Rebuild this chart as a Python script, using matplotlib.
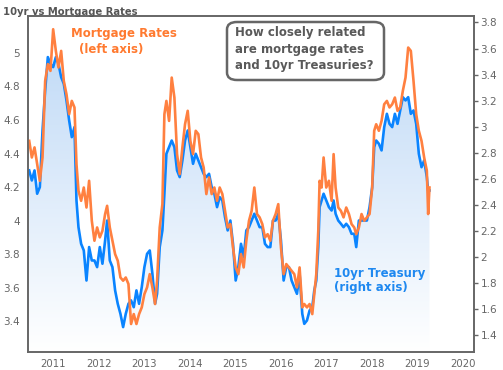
"""
10yr Treasury yields vs mortgage rates, 2010-2019, on twin y axes.
"""

import matplotlib.pyplot as plt
import numpy as np
from matplotlib.colors import LinearSegmentedColormap
from matplotlib.patches import FancyBboxPatch, Polygon

##############################################################################
# Values (decimal year, left axis %, right axis %).

year = [
    2010.466, 2010.524, 2010.583, 2010.641, 2010.700, 2010.759, 2010.817, 2010.876,
    2010.934, 2010.993, 2011.052, 2011.110, 2011.169, 2011.227, 2011.286, 2011.345,
    2011.403, 2011.462, 2011.506, 2011.550, 2011.608, 2011.667, 2011.726, 2011.784,
    2011.843, 2011.901, 2011.960, 2012.019, 2012.077, 2012.136, 2012.180, 2012.239,
    2012.297, 2012.356, 2012.414, 2012.473, 2012.532, 2012.590, 2012.649, 2012.707,
    2012.766, 2012.825, 2012.883, 2012.942, 2013.000, 2013.059, 2013.118, 2013.176,
    2013.235, 2013.279, 2013.337, 2013.396, 2013.440,
    2013.484, 2013.543, 2013.601, 2013.660, 2013.718, 2013.777, 2013.836, 2013.894,
    2013.953, 2014.011, 2014.070, 2014.129, 2014.187, 2014.246, 2014.304, 2014.363,
    2014.422, 2014.480, 2014.539, 2014.598, 2014.656, 2014.715, 2014.773, 2014.832,
    2014.891, 2014.949, 2015.008, 2015.066, 2015.125, 2015.184, 2015.242, 2015.301,
    2015.359, 2015.418, 2015.477, 2015.535, 2015.594, 2015.652, 2015.711, 2015.770,
    2015.828, 2015.887, 2015.945, 2016.004, 2016.063, 2016.121, 2016.180, 2016.238,
    2016.297, 2016.356, 2016.414, 2016.473,
    2016.517, 2016.576, 2016.634, 2016.693, 2016.737, 2016.781, 2016.825, 2016.854,
    2016.898, 2016.942, 2017.000, 2017.059, 2017.118, 2017.162, 2017.206, 2017.264,
    2017.323, 2017.381, 2017.440, 2017.499, 2017.557, 2017.616, 2017.660, 2017.718,
    2017.777, 2017.836, 2017.894, 2017.953, 2018.011, 2018.055, 2018.099, 2018.158,
    2018.217, 2018.275, 2018.334, 2018.392, 2018.451, 2018.510, 2018.568, 2018.627,
    2018.685, 2018.744, 2018.803, 2018.861, 2018.920, 2018.979, 2019.037, 2019.096,
    2019.154, 2019.213, 2019.242, 2019.271,
]

mortgage = [
    4.476, 4.377, 4.437, 4.337, 4.238, 4.377, 4.833, 4.933,
    4.893, 5.141, 5.012, 4.913, 5.012, 4.833, 4.754, 4.635,
    4.714, 4.675, 4.337, 4.179, 4.119, 4.198, 4.079, 4.238,
    4.000, 3.881, 3.960, 3.901, 3.940, 4.040, 4.089, 3.960,
    3.881, 3.801, 3.762, 3.662, 3.643, 3.662, 3.623, 3.385,
    3.444, 3.385, 3.444, 3.484, 3.563, 3.603, 3.682, 3.603,
    3.504, 3.643, 3.960, 4.099, 4.635,
    4.714, 4.595, 4.853, 4.734, 4.397, 4.278, 4.437, 4.575,
    4.655, 4.476, 4.397, 4.536, 4.516, 4.377, 4.317, 4.159,
    4.258, 4.159, 4.198, 4.119, 4.198, 4.159, 4.059, 3.960,
    3.980, 3.841, 3.722, 3.682, 3.801, 3.722, 3.881, 4.000,
    4.059, 4.198, 4.040, 4.020, 3.980, 3.901, 3.920, 3.881,
    4.000, 4.040, 4.099, 3.841, 3.682, 3.742, 3.722, 3.702,
    3.682, 3.603, 3.722, 3.484,
    3.504, 3.484, 3.504, 3.444, 3.563, 3.682, 3.940, 4.238,
    4.198, 4.377, 4.198, 4.238, 4.119, 4.397, 4.198, 4.079,
    4.059, 4.020, 4.079, 4.040, 3.980, 3.960, 3.920, 3.960,
    4.040, 4.000, 4.020, 4.040, 4.198, 4.536, 4.575, 4.536,
    4.595, 4.694, 4.714, 4.675, 4.694, 4.734, 4.655, 4.675,
    4.774, 4.853, 5.032, 5.012, 4.833, 4.635, 4.536, 4.476,
    4.377, 4.298, 4.040, 4.198,
]

treasury = [
    2.663, 2.586, 2.663, 2.484, 2.535, 2.970, 3.278, 3.534,
    3.483, 3.457, 3.534, 3.483, 3.380, 3.329, 3.201, 3.047,
    2.919, 2.996, 2.432, 2.227, 2.099, 2.048, 1.817, 2.074,
    1.971, 1.971, 1.920, 2.074, 1.946, 2.125, 2.278, 1.971,
    1.920, 1.741, 1.638, 1.561, 1.459, 1.561, 1.638, 1.664,
    1.612, 1.741, 1.638, 1.766, 1.920, 2.022, 2.048, 1.869,
    1.638, 1.715, 2.074, 2.202, 2.484,
    2.791, 2.842, 2.893, 2.842, 2.663, 2.612, 2.740, 2.893,
    2.970, 2.842, 2.714, 2.791, 2.740, 2.688, 2.637, 2.612,
    2.637, 2.535, 2.484, 2.381, 2.458, 2.432, 2.304, 2.202,
    2.278, 2.099, 1.817, 1.920, 2.099, 1.997, 2.202, 2.227,
    2.278, 2.330, 2.278, 2.227, 2.227, 2.099, 2.074, 2.074,
    2.278, 2.278, 2.330, 2.125, 1.817, 1.920, 1.920, 1.817,
    1.766, 1.715, 1.869, 1.561,
    1.484, 1.510, 1.587, 1.612, 1.741, 1.817, 2.074, 2.381,
    2.432, 2.484, 2.432, 2.381, 2.355, 2.432, 2.330, 2.278,
    2.253, 2.227, 2.253, 2.227, 2.176, 2.176, 2.074, 2.278,
    2.278, 2.278, 2.278, 2.381, 2.535, 2.842, 2.893, 2.868,
    2.817, 2.996, 3.098, 3.021, 2.996, 3.098, 3.021, 3.124,
    3.226, 3.201, 3.226, 3.098, 3.124, 3.021, 2.791, 2.688,
    2.740, 2.612, 2.509, 2.509,
]

year_ticks = [2011, 2012, 2013, 2014, 2015, 2016, 2017, 2018, 2019, 2020]
mortgage_ticks = [3.4, 3.6, 3.8, 4, 4.2, 4.4, 4.6, 4.8, 5]
treasury_ticks = [1.4, 1.6, 1.8, 2, 2.2, 2.4, 2.6, 2.8, 3, 3.2, 3.4, 3.6, 3.8]

ORANGE = "#FF8040"
BLUE = "#0A84FF"
GREY = "#666666"

xlim = (2010.44, 2020.24)
mortgage_lim = (3.22, 5.22)
treasury_lim = (1.27, 3.85)

##############################################################################
# The treasury axis is the base axes (so the orange line sits on top),
# with its ticks moved to the right.

fig = plt.figure(figsize=(5.03, 3.70), dpi=100)
ax = fig.add_axes([0.0557, 0.0495, 0.8857, 0.9073])
ax2 = ax.twinx()
ax2.yaxis.tick_left()
ax.yaxis.tick_right()

# gradient fill under the treasury line
cmap = LinearSegmentedColormap.from_list("fill", ["#FFFFFF", "#BBD7F6"])
gradient = np.linspace(0, 1, 256).reshape(-1, 1)
im = ax.imshow(
    gradient, cmap=cmap, origin="lower", aspect="auto", zorder=1,
    extent=[xlim[0], xlim[1], treasury_lim[0], treasury_lim[1]],
)
verts = np.column_stack([
    np.r_[year[0], year, year[-1]],
    np.r_[treasury_lim[0], treasury, treasury_lim[0]],
])
clip = Polygon(verts, closed=True, facecolor="none", edgecolor="none", transform=ax.transData)
ax.add_patch(clip)
im.set_clip_path(clip)

ax.plot(year, treasury, color=BLUE, lw=1.9, zorder=2)
ax2.plot(year, mortgage, color=ORANGE, lw=1.9, zorder=2)

ax.set_xlim(*xlim)
ax.set_ylim(*treasury_lim)
ax2.set_ylim(*mortgage_lim)

ax.set_xticks(year_ticks)
ax.set_yticks(treasury_ticks)
ax.set_yticklabels([f"{t:g}" for t in treasury_ticks])
ax2.set_yticks(mortgage_ticks)
ax2.set_yticklabels([f"{t:g}" for t in mortgage_ticks])

ax.tick_params(axis="x", length=0, pad=5, labelsize=7.3, labelcolor=GREY)
ax.tick_params(axis="y", length=3, width=1, color=GREY, pad=2, labelsize=7.5, labelcolor=GREY)
ax2.tick_params(axis="y", length=0, pad=6, labelsize=7.5, labelcolor=GREY)

for a in (ax, ax2):
    for spine in a.spines.values():
        spine.set_color(GREY)
        spine.set_linewidth(1.2)

##############################################################################
# Labels

fig.text(0.006, 0.982, "10yr vs Mortgage Rates", fontsize=7.2, fontweight="bold",
         color="#555555", ha="left", va="top")

fig.text(71 / 503, 1 - 34 / 370, "Mortgage Rates", fontsize=8.5, fontweight="bold",
         color="#FF7A30", ha="left", va="center")
fig.text(79 / 503, 1 - 50 / 370, "(left axis)", fontsize=8.5, fontweight="bold",
         color="#FF7A30", ha="left", va="center")

fig.text(334 / 503, 1 - 273 / 370, "10yr Treasury", fontsize=8.5, fontweight="bold",
         color="#1E88F0", ha="left", va="center")
fig.text(334 / 503, 1 - 288 / 370, "(right axis)", fontsize=8.5, fontweight="bold",
         color="#1E88F0", ha="left", va="center")

box = FancyBboxPatch(
    (227 / 503, 1 - 80 / 370), 157 / 503, 58 / 370,
    boxstyle="round,pad=0,rounding_size=0.02", transform=fig.transFigure,
    facecolor="white", edgecolor=GREY, linewidth=1.8, zorder=5,
)
fig.patches.append(box)
fig.text(235 / 503, 1 - 49 / 370,
         "How closely related\nare mortgage rates\nand 10yr Treasuries?",
         fontsize=8.5, fontweight="bold", color="#595959", ha="left", va="center",
         linespacing=1.35, zorder=6)

fig.savefig("out.png", dpi=100)
